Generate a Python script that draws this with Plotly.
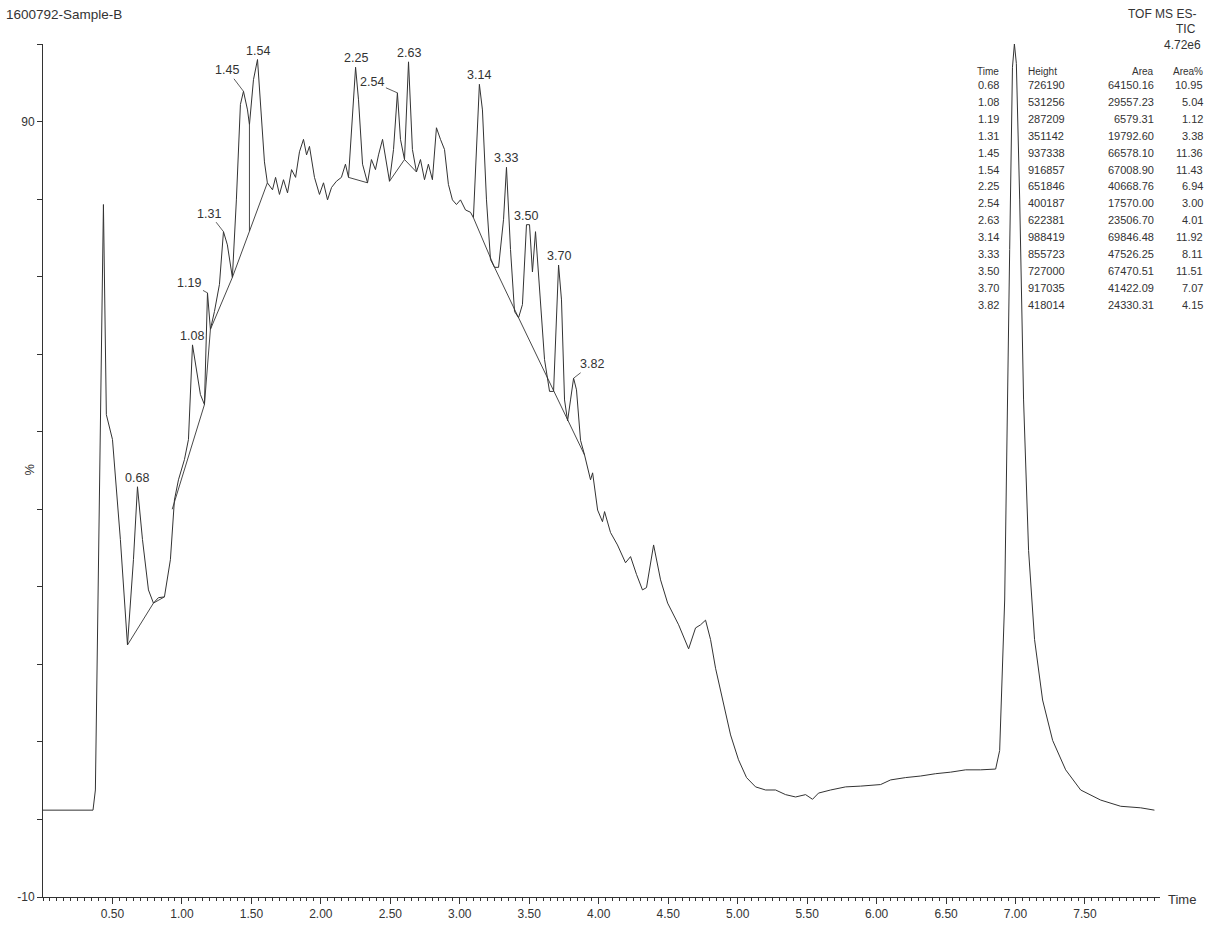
import plotly.graph_objects as go

# ---------------- data ----------------
time = [0.00, 0.36, 0.377, 0.406, 0.435, 0.456, 0.50, 0.557, 0.608, 0.651, 0.68, 0.716, 0.759, 0.795,
        0.831, 0.874, 0.917, 0.946, 0.975, 1.018, 1.047, 1.076, 1.104, 1.133, 1.162, 1.184, 1.205,
        1.234, 1.27, 1.299, 1.327, 1.363, 1.392, 1.421, 1.443, 1.472, 1.486, 1.515, 1.544, 1.565,
        1.594, 1.615, 1.652, 1.674, 1.702, 1.731, 1.76, 1.789, 1.818, 1.846, 1.875, 1.897, 1.918,
        1.954, 1.99, 2.019, 2.048, 2.077, 2.112, 2.148, 2.177, 2.199, 2.228, 2.25, 2.271, 2.30,
        2.336, 2.364, 2.393, 2.415, 2.444, 2.472, 2.494, 2.523, 2.551, 2.573, 2.602, 2.631, 2.659,
        2.688, 2.717, 2.746, 2.774, 2.803, 2.832, 2.861, 2.89, 2.918, 2.947, 2.976, 3.005, 3.041,
        3.077, 3.098, 3.12, 3.141, 3.163, 3.192, 3.221, 3.25, 3.279, 3.315, 3.336, 3.365, 3.394,
        3.423, 3.451, 3.48, 3.502, 3.523, 3.545, 3.574, 3.61, 3.646, 3.675, 3.711, 3.732, 3.754,
        3.776, 3.797, 3.819, 3.84, 3.869, 3.898, 3.941, 3.956, 3.992, 4.027, 4.042, 4.085, 4.135,
        4.193, 4.229, 4.272, 4.315, 4.344, 4.395, 4.445, 4.496, 4.575, 4.647, 4.697, 4.733, 4.769,
        4.805, 4.841, 4.891, 4.949, 5.006, 5.064, 5.129, 5.201, 5.273, 5.345, 5.417, 5.489, 5.539,
        5.582, 5.669, 5.777, 5.885, 6.029, 6.101, 6.209, 6.317, 6.425, 6.533, 6.641, 6.749, 6.857,
        6.886, 6.922, 6.958, 6.978, 6.992, 7.006, 7.03, 7.058, 7.094, 7.137, 7.195, 7.267, 7.361,
        7.469, 7.613, 7.757, 7.901, 8.00]
intensity = [1.2, 1.2, 3.8, 41.2, 79.3, 52.2, 49.0, 36.1, 22.5, 33.5, 42.9, 36.1, 29.6, 27.9,
             28.6, 28.7, 33.5, 41.2, 43.8, 46.4, 49.0, 61.2, 58.0, 54.8, 53.5, 67.9, 63.2,
             65.5, 69.0, 75.8, 74.1, 69.9, 79.9, 92.2, 93.9, 91.5, 89.6, 95.4, 98.0, 92.8,
             84.8, 82.1, 81.2, 82.8, 80.6, 82.5, 80.8, 83.8, 82.8, 86.1, 87.7, 85.7, 86.8,
             82.8, 80.6, 82.1, 79.9, 81.5, 82.3, 82.8, 84.5, 82.8, 91.5, 97.0, 92.8, 84.5,
             82.1, 85.1, 83.8, 85.7, 87.7, 84.5, 82.3, 86.4, 93.7, 87.7, 85.1, 97.7, 86.4,
             83.5, 85.1, 82.5, 84.5, 82.5, 89.2, 87.7, 86.4, 81.9, 79.9, 79.3, 79.9, 78.6,
             78.3, 77.6, 86.4, 94.8, 91.5, 79.9, 72.2, 71.2, 71.2, 77.4, 84.1, 73.5, 65.5,
             64.7, 66.4, 76.7, 76.7, 70.6, 75.8, 68.3, 59.3, 55.2, 55.2, 71.5, 67.0, 54.1,
             51.4, 54.1, 56.9, 55.4, 48.9, 47.0, 43.8, 44.7, 39.9, 38.4, 39.7, 37.0, 35.4,
             33.1, 33.9, 31.6, 29.6, 29.9, 35.4, 30.9, 27.9, 25.1, 22.0, 24.7, 25.1, 25.7,
             23.2, 19.5, 15.4, 10.9, 7.7, 5.4, 4.2, 3.8, 3.8, 3.2, 2.9, 3.2, 2.6,
             3.4, 3.8, 4.2, 4.3, 4.5, 5.1, 5.4, 5.6, 5.9, 6.1, 6.4, 6.4, 6.5,
             8.9, 28.3, 73.5, 97.0, 100.0, 97.5, 80.0, 54.1, 34.7, 23.2, 15.4, 10.2, 6.4,
             3.8, 2.5, 1.7, 1.5, 1.2]

# integration baselines (None separates segments)
baseline_t = [0.608, 0.795, 0.874, None,
              0.93, 1.162, None,
              1.162, 1.205, 1.363, 1.615, None,
              2.199, 2.336, None,
              2.494, 2.602, 2.688, None,
              3.098, 3.25, 3.423, 3.675, 3.776, 3.898]
baseline_y = [22.5, 27.9, 28.7, None,
              40.0, 53.5, None,
              53.5, 63.2, 69.9, 82.1, None,
              82.8, 82.1, None,
              82.3, 85.1, 83.5, None,
              77.6, 71.2, 64.7, 55.2, 51.4, 47.0]
drop_t = [1.486, 1.486]
drop_y = [89.6, 75.9]

# peak list
peak_times = ["0.68", "1.08", "1.19", "1.31", "1.45", "1.54", "2.25", "2.54", "2.63",
              "3.14", "3.33", "3.50", "3.70", "3.82"]
peak_heights = ["726190", "531256", "287209", "351142", "937338", "916857", "651846", "400187",
                "622381", "988419", "855723", "727000", "917035", "418014"]
peak_areas = ["64150.16", "29557.23", "6579.31", "19792.60", "66578.10", "67008.90", "40668.76",
              "17570.00", "23506.70", "69846.48", "47526.25", "67470.51", "41422.09", "24330.31"]
peak_area_pct = ["10.95", "5.04", "1.12", "3.38", "11.36", "11.43", "6.94", "3.00", "4.01",
                 "11.92", "8.11", "11.51", "7.07", "4.15"]

x_tick_values = [0.5, 1.0, 1.5, 2.0, 2.5, 3.0, 3.5, 4.0, 4.5, 5.0, 5.5, 6.0, 6.5, 7.0, 7.5]
x_tick_labels = ["0.50", "1.00", "1.50", "2.00", "2.50", "3.00", "3.50", "4.00", "4.50",
                 "5.00", "5.50", "6.00", "6.50", "7.00", "7.50"]
y_tick_values = [-10, 0, 10, 20, 30, 40, 50, 60, 70, 80, 90, 100]
y_tick_labels = ["-10", "", "", "", "", "", "", "", "", "", "90", ""]

# ---------------- styling ----------------
W, H = 1207, 928
ML, MR, MT, MB = 43, 47, 44, 31
FONT = "Liberation Sans, Arial, sans-serif"
INK = "#333333"
plot_w = W - ML - MR
plot_h = H - MT - MB


def px_x(px):
    return (px - ML) / plot_w


def px_y(py):
    return (H - MB - py) / plot_h


fig = go.Figure()
fig.add_trace(go.Scatter(x=time, y=intensity, mode="lines",
                         line=dict(color=INK, width=1), hoverinfo="skip"))
fig.add_trace(go.Scatter(x=baseline_t, y=baseline_y, mode="lines", connectgaps=False,
                         line=dict(color=INK, width=0.9), hoverinfo="skip"))
fig.add_trace(go.Scatter(x=drop_t, y=drop_y, mode="lines",
                         line=dict(color=INK, width=0.9), hoverinfo="skip"))

annotations = []
LABEL_SIZE = 12.5

# peak labels (offsets in pixels for leader-line labels)
leader = {"1.19": (-18, -10), "1.31": (-14, -18), "1.45": (-16, -21),
          "2.54": (-25, -11), "3.82": (18, -14)}
for lab in peak_times:
    tv = float(lab)
    best = None
    for t, v in zip(time, intensity):
        if abs(t - tv) <= 0.025 and (best is None or v > best[1]):
            best = (t, v)
    if lab in leader:
        ax, ay = leader[lab]
        annotations.append(dict(x=best[0], y=best[1], xref="x", yref="y", text=lab,
                                showarrow=True, arrowhead=0, arrowwidth=0.8, arrowcolor=INK,
                                ax=ax, ay=ay, standoff=0,
                                font=dict(family=FONT, size=LABEL_SIZE, color=INK)))
    else:
        annotations.append(dict(x=best[0], y=best[1], xref="x", yref="y", text=lab,
                                showarrow=False, yanchor="bottom", yshift=0,
                                font=dict(family=FONT, size=LABEL_SIZE, color=INK)))

# header texts
annotations.append(dict(x=px_x(4), y=px_y(14), xref="paper", yref="paper",
                        text="1600792-Sample-B", showarrow=False, xanchor="left",
                        yanchor="middle", font=dict(family=FONT, size=13.5, color=INK)))
for txt, py, pxr in [("TOF MS ES-", 14, 1198), ("TIC", 29, 1198), ("4.72e6", 45, 1203)]:
    annotations.append(dict(x=px_x(pxr), y=px_y(py), xref="paper", yref="paper", text=txt,
                            showarrow=False, xanchor="right", yanchor="middle",
                            font=dict(family=FONT, size=12, color=INK)))

# peak table
col_x = [(1001, "right"), (1026, "left"), (1156, "right"), (1205, "right")]
headers = ["Time", "Height", "Area", "Area%"]
rows_y0, row_step, header_y = 85, 16.9, 71
for (cx, anc), h in zip(col_x, headers):
    annotations.append(dict(x=px_x(cx), y=px_y(header_y), xref="paper", yref="paper", text=h,
                            showarrow=False, xanchor=anc, yanchor="middle",
                            font=dict(family=FONT, size=10, color=INK)))
for i in range(len(peak_times)):
    vals = [peak_times[i], peak_heights[i], peak_areas[i], peak_area_pct[i]]
    for (cx, anc), v in zip(col_x, vals):
        annotations.append(dict(x=px_x(cx), y=px_y(rows_y0 + i * row_step), xref="paper",
                                yref="paper", text=v, showarrow=False, xanchor=anc,
                                yanchor="middle", font=dict(family=FONT, size=11, color=INK)))

# axis titles
annotations.append(dict(x=px_x(1166), y=px_y(899), xref="paper", yref="paper", text="Time",
                        showarrow=False, xanchor="left", yanchor="middle",
                        font=dict(family=FONT, size=13, color=INK)))
annotations.append(dict(x=px_x(30), y=px_y(470), xref="paper", yref="paper", text="%",
                        showarrow=False, textangle=90, xanchor="center", yanchor="middle",
                        font=dict(family=FONT, size=13, color=INK)))

fig.update_layout(
    width=W, height=H,
    margin=dict(l=ML, r=MR, t=MT, b=MB, pad=0, autoexpand=False),
    paper_bgcolor="white", plot_bgcolor="white",
    showlegend=False,
    annotations=annotations,
    font=dict(family=FONT, size=12, color=INK),
    xaxis=dict(range=[0, 8.04], tickmode="array", tickvals=x_tick_values,
               ticktext=x_tick_labels, ticks="outside", ticklen=6, tickwidth=1,
               tickcolor=INK, showline=True, linecolor=INK, linewidth=1, automargin=False,
               showgrid=False, zeroline=False, tickfont=dict(family=FONT, size=12, color=INK),
               minor=dict(dtick=0.05, tick0=0, ticks="outside", ticklen=3, tickcolor=INK,
                          tickwidth=0.8, showgrid=False)),
    yaxis=dict(range=[-10, 100], tickmode="array", tickvals=y_tick_values,
               ticktext=y_tick_labels, ticks="outside", ticklen=5, tickwidth=1,
               tickcolor=INK, showline=True, linecolor=INK, linewidth=1, automargin=False,
               showgrid=False, zeroline=False, tickfont=dict(family=FONT, size=12, color=INK)),
)

fig.write_html("out.html")
